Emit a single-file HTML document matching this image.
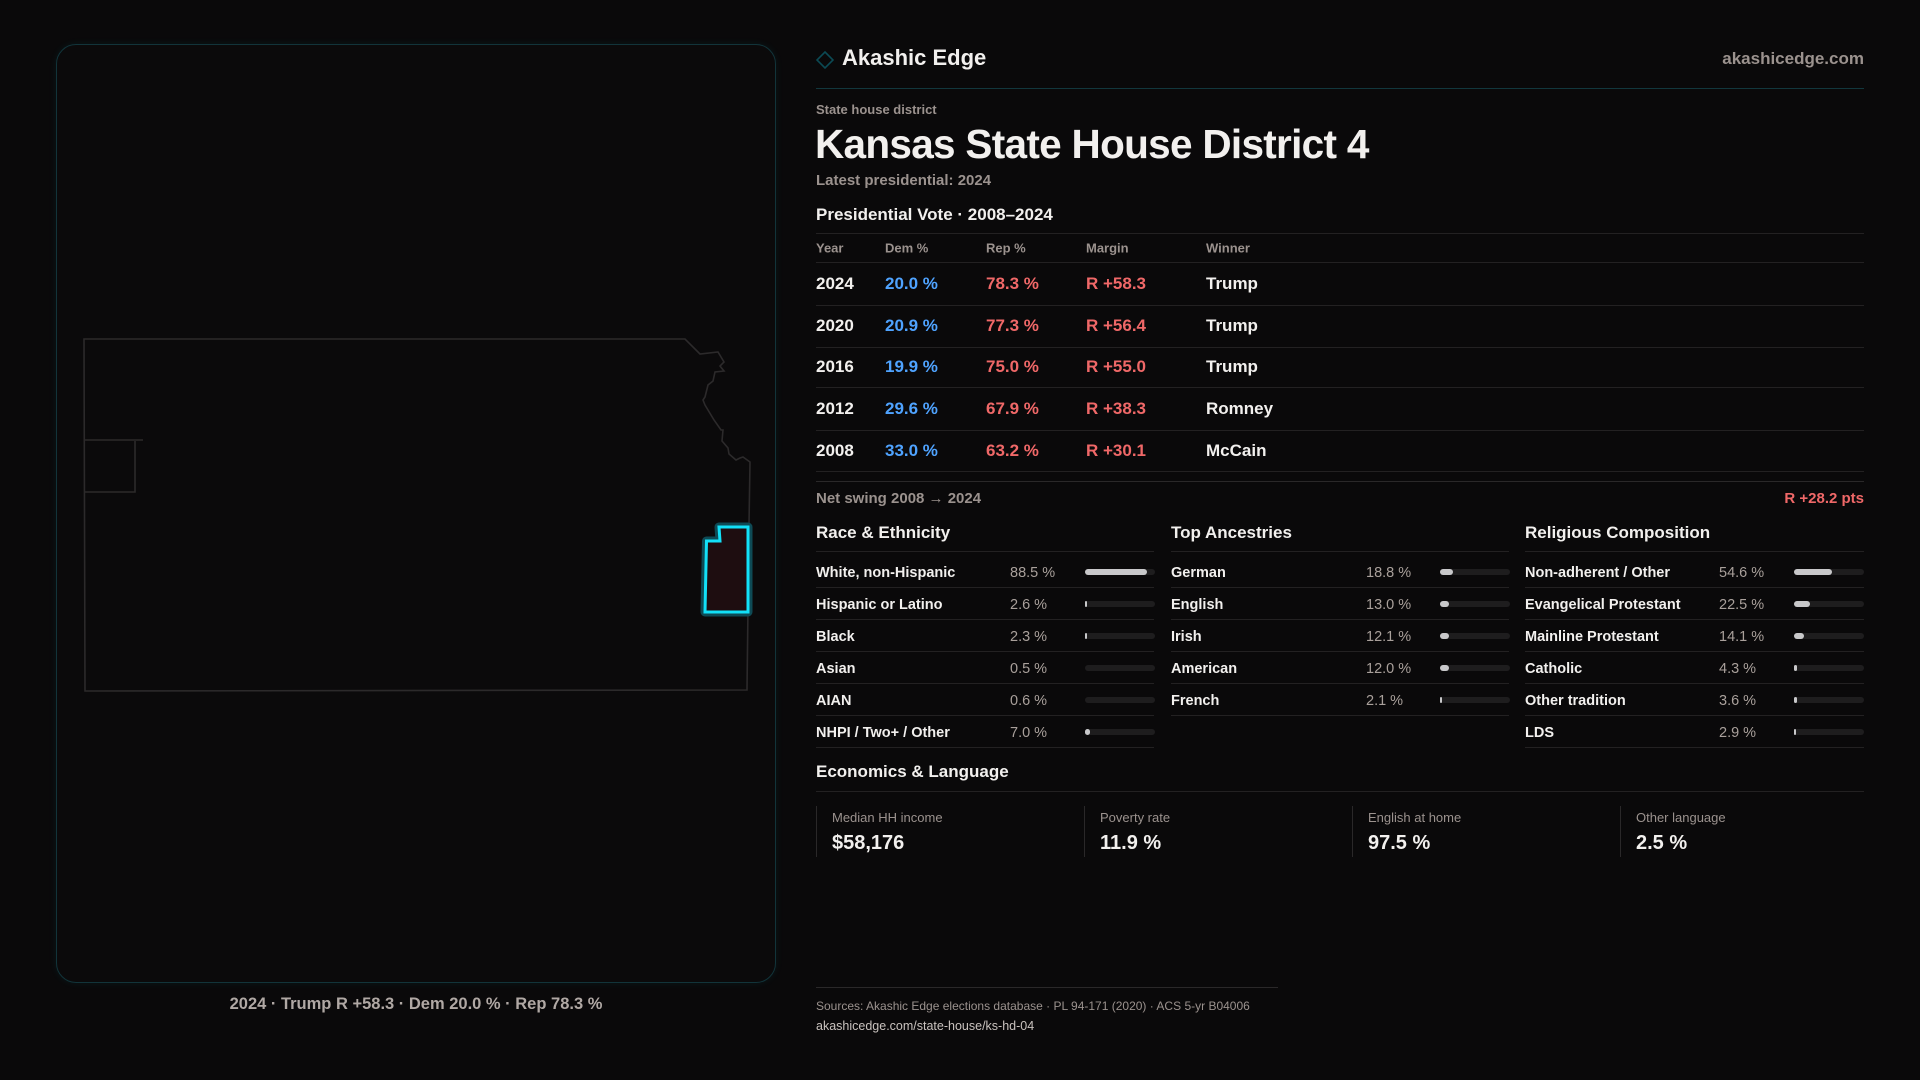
<!DOCTYPE html>
<html><head><meta charset="utf-8"><style>
*{margin:0;padding:0;box-sizing:border-box}
body{width:1920px;height:1080px;background:#0a090a;font-family:"Liberation Sans","DejaVu Sans",sans-serif;color:#f2f0ee;position:relative;overflow:hidden}
.a{position:absolute;white-space:nowrap}
.g{color:#9b928e}
.card{position:absolute;left:56px;top:44px;width:720px;height:939px;border:1px solid #12343a;border-radius:20px;background:#0b0a0b;box-shadow:0 0 8px rgba(0,200,230,0.08)}
.hl{position:absolute;height:1px;background:#232122}
.row{position:absolute;left:816px;width:1048px;font-size:17px;font-weight:bold}
.row span{position:absolute;top:1px;transform:translateY(-50%)}
.b{color:#4fa3ff}.r{color:#f06868}
.col{position:absolute;width:338px}
.it{position:absolute;left:0;width:100%;height:32px;border-bottom:1px solid #232122;font-size:14.5px;font-weight:bold}
.it .l{position:absolute;left:0;top:9px}
.it .v{position:absolute;top:9px;color:#a9a09b;font-weight:normal}
.it .t{position:absolute;top:13px;width:70px;height:6px;border-radius:3px;background:#1e1d1e}
.it .f{position:absolute;left:0;top:0;height:6px;border-radius:3px;background:#c8c8ca;min-width:2px}
.ec{position:absolute;top:806px;height:51px;border-left:1px solid #2a2829;padding-left:15px}
.ec .k{font-size:13px;color:#9b928e;margin-top:4px}
.ec .n{font-size:20px;font-weight:bold;margin-top:7px}
</style></head><body>
<div class="card"></div>
<svg class="a" style="left:0;top:0" width="800" height="1000" viewBox="0 0 800 1000">
<path d="M84 339 L685 339 L700 354 L718 352 L724 362 L720 366 L724 371 L715 372 L713 381 L708 385 L705 397 L703 400 L705 405 L714 420 L721 430 L723 430 L722 441 L728 448 L729 454 L736 460 L740 458 L743 457 L750 462 L749 525 L747 690 L85 691 Z" fill="none" stroke="#2c2a2b" stroke-width="1.6"/>
<path d="M84 440 L143 440 M135 441 L135 492 L85 492" fill="none" stroke="#2c2a2b" stroke-width="1.6"/>
<path d="M719 527 L748 527 L748 612 L705 612 L706.5 541 L720 541 Z" fill="#1e0d10" stroke="#0e4a55" stroke-width="9" stroke-linejoin="round"/>
<path d="M719 527 L748 527 L748 612 L705 612 L706.5 541 L720 541 Z" fill="#1e0d10" stroke="#12e0f8" stroke-width="3"/>
</svg>
<div class="a" style="left:0;width:832px;top:995px;text-align:center;font-size:16.5px;font-weight:bold;color:#b0a8a4">2024 · Trump R +58.3 · Dem 20.0 % · Rep 78.3 %</div>

<svg class="a" style="left:816px;top:51px" width="18" height="18"><path d="M9 1 L17 9 L9 17 L1 9 Z" fill="none" stroke="#0c4a54" stroke-width="1.6"/></svg>
<div class="a" style="left:842px;top:45px;font-size:22px;font-weight:bold">Akashic Edge</div>
<div class="a g" style="right:56px;top:49px;font-size:17px;font-weight:bold">akashicedge.com</div>
<div class="hl" style="left:816px;width:1048px;top:88px;background:#12373d"></div>
<div class="a g" style="left:816px;top:102px;font-size:13px;font-weight:bold">State house district</div>
<div class="a" style="left:815px;top:121px;font-size:40.5px;font-weight:bold;letter-spacing:-0.7px">Kansas State House District 4</div>
<div class="a g" style="left:816px;top:172px;font-size:15px;font-weight:bold">Latest presidential: 2024</div>
<div class="a" style="left:816px;top:205px;font-size:17px;font-weight:bold">Presidential Vote · 2008–2024</div>
<div class="hl" style="left:816px;width:1048px;top:233px"></div>
<div class="row g" style="top:247px;font-size:13px"><span style="left:0">Year</span><span style="left:69px">Dem %</span><span style="left:170px">Rep %</span><span style="left:270px">Margin</span><span style="left:390px">Winner</span></div>
<div class="hl" style="left:816px;width:1048px;top:262px"></div>
<div class="row" style="top:283px"><span style="left:0">2024</span><span class="b" style="left:69px">20.0 %</span><span class="r" style="left:170px">78.3 %</span><span class="r" style="left:270px">R +58.3</span><span style="left:390px">Trump</span></div>
<div class="hl" style="left:816px;width:1048px;top:305px"></div>
<div class="row" style="top:325px"><span style="left:0">2020</span><span class="b" style="left:69px">20.9 %</span><span class="r" style="left:170px">77.3 %</span><span class="r" style="left:270px">R +56.4</span><span style="left:390px">Trump</span></div>
<div class="hl" style="left:816px;width:1048px;top:347px"></div>
<div class="row" style="top:366px"><span style="left:0">2016</span><span class="b" style="left:69px">19.9 %</span><span class="r" style="left:170px">75.0 %</span><span class="r" style="left:270px">R +55.0</span><span style="left:390px">Trump</span></div>
<div class="hl" style="left:816px;width:1048px;top:387px"></div>
<div class="row" style="top:408px"><span style="left:0">2012</span><span class="b" style="left:69px">29.6 %</span><span class="r" style="left:170px">67.9 %</span><span class="r" style="left:270px">R +38.3</span><span style="left:390px">Romney</span></div>
<div class="hl" style="left:816px;width:1048px;top:430px"></div>
<div class="row" style="top:450px"><span style="left:0">2008</span><span class="b" style="left:69px">33.0 %</span><span class="r" style="left:170px">63.2 %</span><span class="r" style="left:270px">R +30.1</span><span style="left:390px">McCain</span></div>
<div class="hl" style="left:816px;width:1048px;top:471px"></div>
<div class="hl" style="left:816px;width:1048px;top:481px;background:#2a2829"></div>
<div class="a g" style="left:816px;top:490px;font-size:15px;font-weight:bold">Net swing 2008 → 2024</div>
<div class="a r" style="right:56px;top:490px;font-size:15px;font-weight:bold">R +28.2 pts</div>

<div class="col" style="left:816px;top:520px">
<div class="a" style="top:3px;font-size:17px;font-weight:bold">Race &amp; Ethnicity</div>
<div class="hl" style="left:0;width:100%;top:31px"></div>
<div class="it" style="top:36px"><span class="l">White, non-Hispanic</span><span class="v" style="left:194px">88.5 %</span><div class="t" style="left:269px"><div class="f" style="width:62px"></div></div></div>
<div class="it" style="top:68px"><span class="l">Hispanic or Latino</span><span class="v" style="left:194px">2.6 %</span><div class="t" style="left:269px"><div class="f" style="width:2px"></div></div></div>
<div class="it" style="top:100px"><span class="l">Black</span><span class="v" style="left:194px">2.3 %</span><div class="t" style="left:269px"><div class="f" style="width:2px"></div></div></div>
<div class="it" style="top:132px"><span class="l">Asian</span><span class="v" style="left:194px">0.5 %</span><div class="t" style="left:269px"><div class="f" style="width:0;min-width:0"></div></div></div>
<div class="it" style="top:164px"><span class="l">AIAN</span><span class="v" style="left:194px">0.6 %</span><div class="t" style="left:269px"><div class="f" style="width:0;min-width:0"></div></div></div>
<div class="it" style="top:196px"><span class="l">NHPI / Two+ / Other</span><span class="v" style="left:194px">7.0 %</span><div class="t" style="left:269px"><div class="f" style="width:5px"></div></div></div>
</div>
<div class="col" style="left:1171px;top:520px">
<div class="a" style="top:3px;font-size:17px;font-weight:bold">Top Ancestries</div>
<div class="hl" style="left:0;width:100%;top:31px"></div>
<div class="it" style="top:36px"><span class="l">German</span><span class="v" style="left:195px">18.8 %</span><div class="t" style="left:269px"><div class="f" style="width:13px"></div></div></div>
<div class="it" style="top:68px"><span class="l">English</span><span class="v" style="left:195px">13.0 %</span><div class="t" style="left:269px"><div class="f" style="width:9px"></div></div></div>
<div class="it" style="top:100px"><span class="l">Irish</span><span class="v" style="left:195px">12.1 %</span><div class="t" style="left:269px"><div class="f" style="width:9px"></div></div></div>
<div class="it" style="top:132px"><span class="l">American</span><span class="v" style="left:195px">12.0 %</span><div class="t" style="left:269px"><div class="f" style="width:9px"></div></div></div>
<div class="it" style="top:164px"><span class="l">French</span><span class="v" style="left:195px">2.1 %</span><div class="t" style="left:269px"><div class="f" style="width:2px"></div></div></div>
</div>
<div class="col" style="left:1525px;top:520px;width:339px">
<div class="a" style="top:3px;font-size:17px;font-weight:bold">Religious Composition</div>
<div class="hl" style="left:0;width:100%;top:31px"></div>
<div class="it" style="top:36px"><span class="l">Non-adherent / Other</span><span class="v" style="left:194px">54.6 %</span><div class="t" style="left:269px"><div class="f" style="width:38px"></div></div></div>
<div class="it" style="top:68px"><span class="l">Evangelical Protestant</span><span class="v" style="left:194px">22.5 %</span><div class="t" style="left:269px"><div class="f" style="width:16px"></div></div></div>
<div class="it" style="top:100px"><span class="l">Mainline Protestant</span><span class="v" style="left:194px">14.1 %</span><div class="t" style="left:269px"><div class="f" style="width:10px"></div></div></div>
<div class="it" style="top:132px"><span class="l">Catholic</span><span class="v" style="left:194px">4.3 %</span><div class="t" style="left:269px"><div class="f" style="width:3px"></div></div></div>
<div class="it" style="top:164px"><span class="l">Other tradition</span><span class="v" style="left:194px">3.6 %</span><div class="t" style="left:269px"><div class="f" style="width:3px"></div></div></div>
<div class="it" style="top:196px"><span class="l">LDS</span><span class="v" style="left:194px">2.9 %</span><div class="t" style="left:269px"><div class="f" style="width:2px"></div></div></div>
</div>

<div class="a" style="left:816px;top:762px;font-size:17px;font-weight:bold">Economics &amp; Language</div>
<div class="hl" style="left:816px;width:1048px;top:791px"></div>
<div class="ec" style="left:816px"><div class="k">Median HH income</div><div class="n">$58,176</div></div>
<div class="ec" style="left:1084px"><div class="k">Poverty rate</div><div class="n">11.9 %</div></div>
<div class="ec" style="left:1352px"><div class="k">English at home</div><div class="n">97.5 %</div></div>
<div class="ec" style="left:1620px"><div class="k">Other language</div><div class="n">2.5 %</div></div>

<div class="hl" style="left:816px;width:462px;top:987px;background:#2a2829"></div>
<div class="a g" style="left:816px;top:999px;font-size:12px">Sources: Akashic Edge elections database · PL 94-171 (2020) · ACS 5-yr B04006</div>
<div class="a" style="left:816px;top:1019px;font-size:12.5px;color:#c9c2be">akashicedge.com/state-house/ks-hd-04</div>
</body></html>
